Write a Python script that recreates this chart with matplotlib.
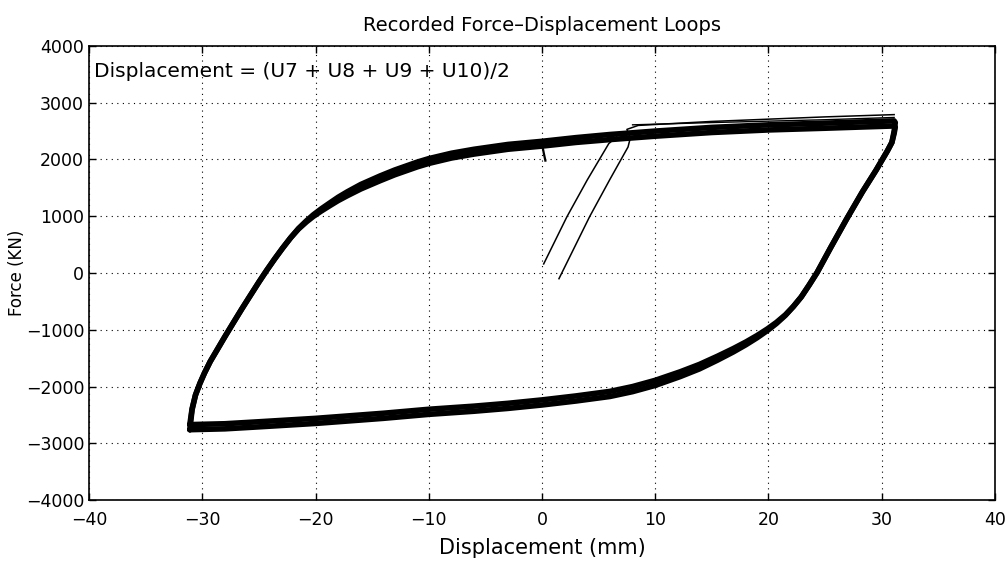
import numpy as np
import matplotlib
matplotlib.use('Agg')
import matplotlib.pyplot as plt

plt.rcParams['font.family'] = ['DejaVu Sans']

# loading branch (negative peak -> positive peak), displacement in mm
up_x = [-31.1, -30.9, -30.6, -30.2, -29.8, -29.3, -28.7, -28.0, -27.3, -26.5, -25.8,
        -25.0, -24.3, -23.6, -22.9, -22.2, -21.5, -20.8, -20.2, -19.5, -18.7, -18.0,
        -17.2, -16.0, -14.3, -13.0, -12.0, -11.0, -10.0, -8.0, -6.0, -3.0, 0.0, 3.0,
        6.0, 10.0, 15.0, 20.0, 25.0, 28.0, 31.1]
# force (kN): outer and inner cycles of the thick band
up_fa = [-2760, -2410, -2150, -1940, -1760, -1560, -1357, -1120, -890, -630, -410,
         -160, 50, 250, 440, 620, 785, 920, 1025, 1130, 1240, 1335,
         1430, 1560, 1710, 1815, 1885, 1955, 2015, 2110, 2180, 2265, 2320, 2385,
         2440, 2500, 2565, 2610, 2640, 2660, 2680]
up_fb = [-2670, -2390, -2150, -1940, -1760, -1560, -1357, -1120, -890, -630, -410,
         -160, 50, 250, 440, 620, 775, 900, 995, 1090, 1190, 1275,
         1360, 1480, 1625, 1730, 1800, 1870, 1930, 2025, 2095, 2180, 2235, 2300,
         2350, 2410, 2475, 2520, 2550, 2570, 2590]

# unloading branch (positive peak -> negative peak)
dn_x = [31.2, 31.1, 30.9, 30.5, 30.0, 29.5, 28.9, 28.3, 27.6, 26.9, 26.2, 25.5,
        24.9, 24.3, 23.6, 22.9, 22.2, 21.5, 20.7, 19.9, 19.0, 18.0, 16.9, 15.5,
        13.9, 12.2, 10.0, 8.0, 6.0, 3.0, 0.0, -3.0, -6.0, -10.0, -14.0, -20.0,
        -25.0, -28.0, -31.1]
dn_fa = [2650, 2500, 2300, 2150, 1980, 1810, 1620, 1430, 1190, 950, 700, 450,
         230, 10, -210, -420, -590, -745, -890, -1015, -1140, -1265, -1390, -1535,
         -1690, -1825, -1980, -2090, -2175, -2255, -2325, -2385, -2435, -2490, -2560, -2650,
         -2710, -2745, -2760]
dn_fb = [2570, 2460, 2300, 2150, 1980, 1810, 1620, 1430, 1190, 950, 700, 450,
         230, 10, -210, -420, -590, -735, -870, -985, -1100, -1215, -1330, -1465,
         -1610, -1740, -1890, -2000, -2085, -2165, -2235, -2295, -2345, -2400, -2470, -2560,
         -2620, -2655, -2670]

# initial loading paths (thin lines)
init1_x = [0.15, 2.2, 4.0, 5.9, 6.6]
init1_f = [160, 990, 1640, 2280, 2400]
init2_x = [1.5, 4.2, 6.0, 7.6, 7.8, 7.5, 8.5, 15.0, 20.0, 25.0, 31.1]
init2_f = [-100, 990, 1650, 2220, 2380, 2530, 2600, 2670, 2710, 2750, 2790]
top_x = [8.0, 15.0, 25.0, 31.1]
top_f = [2610, 2650, 2700, 2740]
hook_x = [0.0, 0.15, 0.3]
hook_f = [2280, 2120, 1980]

fig = plt.figure(figsize=(10.06, 5.67), dpi=100)
ax = fig.add_axes([0.0885, 0.118, 0.9005, 0.801])

for uf, df in [(up_fa, dn_fa), (up_fb, dn_fb)]:
    ax.plot(up_x + dn_x, uf + df, color='black', lw=4.0,
            solid_joinstyle='round', solid_capstyle='round')

ax.plot(init1_x, init1_f, color='black', lw=1.1)
ax.plot(init2_x, init2_f, color='black', lw=1.1)
ax.plot(top_x, top_f, color='black', lw=1.0)
ax.plot(hook_x, hook_f, color='black', lw=1.6)

ax.set_xlim(-40, 40)
ax.set_ylim(-4000, 4000)
ax.set_xticks(np.arange(-40, 41, 10))
ax.set_yticks(np.arange(-4000, 4001, 1000))
ax.grid(True, linestyle=(0, (1, 4)), color='black', lw=0.8)
ax.tick_params(direction='in', top=True, right=True, labelsize=12.5, length=5, width=1)
ax.tick_params(axis='x', pad=8)
for s in ax.spines.values():
    s.set_linewidth(1.2)

ax.text(0.005, 0.965, 'Displacement = (U7 + U8 + U9 + U10)/2', transform=ax.transAxes,
        fontsize=14.5, va='top', ha='left')
ax.set_title('Recorded Force\u2013Displacement Loops', fontsize=14, pad=11)
ax.set_xlabel('Displacement (mm)', fontsize=15, labelpad=6)
ax.set_ylabel('Force (KN)', fontsize=12, labelpad=0)

fig.savefig('out.png', dpi=100)
